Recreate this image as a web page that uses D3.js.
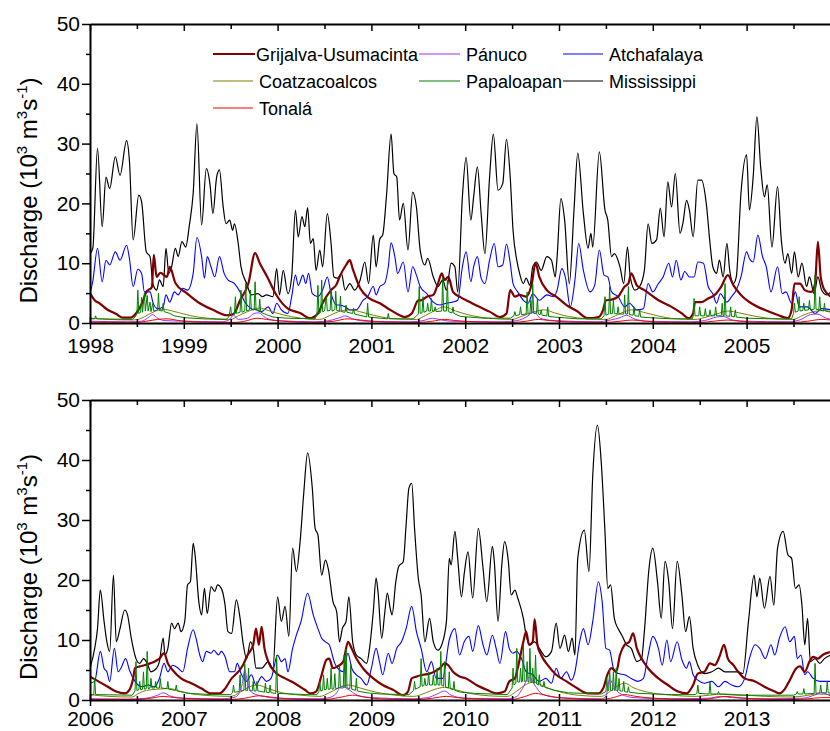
<!DOCTYPE html>
<html>
<head>
<meta charset="utf-8">
<script src="https://cdn.jsdelivr.net/npm/d3@7/dist/d3.min.js"></script>
<style>
  body { margin: 0; background: #fff; }
  svg { display: block; font-family: "Liberation Sans", Arial, sans-serif; }
</style>
</head>
<body>
<svg id="chart" width="830" height="731"></svg>
<script>
// ---- data: [decimal year, discharge in 10^3 m3/s] ----
let seriesNames = ['Grijalva-Usumacinta', 'Pánuco', 'Atchafalaya', 'Coatzacoalcos', 'Papaloapan', 'Mississippi', 'Tonalá'];
let topYears = [1998, 1999, 2000, 2001, 2002, 2003, 2004, 2005];
let bottomYears = [2006, 2007, 2008, 2009, 2010, 2011, 2012, 2013];
let yTicks = [0, 10, 20, 30, 40, 50];

let missTop = [[1998.00,11.6],[1998.03,12.5],[1998.08,29.2],[1998.13,16.1],[1998.17,24.4],[1998.21,22.5],[1998.27,27.8],[1998.32,24.7],[1998.39,30.5],[1998.42,27.2],[1998.46,13.9],[1998.52,21.4],[1998.55,20.3],[1998.60,11.9],[1998.64,11.1],[1998.67,6.6],[1998.71,5.5],[1998.74,7.2],[1998.78,6.1],[1998.81,12.5],[1998.84,8.3],[1998.87,9.4],[1998.91,12.5],[1998.94,11.1],[1998.98,13.6],[1999.02,12.7],[1999.06,16.4],[1999.10,21.7],[1999.14,33.3],[1999.19,16.4],[1999.24,25.8],[1999.28,23.1],[1999.31,18.3],[1999.35,24.4],[1999.38,25.6],[1999.42,19.4],[1999.45,16.6],[1999.49,17.2],[1999.52,15.5],[1999.54,16.6],[1999.58,13.3],[1999.61,9.4],[1999.67,6.6],[1999.72,4.7],[1999.79,4.9],[1999.84,4.4],[1999.88,4.7],[1999.95,4.4],[1999.99,9.1],[2000.02,4.7],[2000.06,8.8],[2000.11,4.9],[2000.15,7.7],[2000.19,18.9],[2000.22,14.4],[2000.26,17.8],[2000.29,16.1],[2000.32,19.3],[2000.35,13.3],[2000.38,14.1],[2000.41,8.8],[2000.45,12.2],[2000.48,9.4],[2000.53,18.3],[2000.57,13.3],[2000.60,7.7],[2000.64,7.5],[2000.68,8.3],[2000.72,5.5],[2000.77,6.6],[2000.82,5.5],[2000.88,7.2],[2000.93,10.2],[2000.97,6.6],[2001.02,14.7],[2001.05,9.4],[2001.09,14.1],[2001.12,14.7],[2001.16,21.1],[2001.21,31.6],[2001.24,25.0],[2001.27,24.4],[2001.30,17.2],[2001.34,20.0],[2001.39,12.2],[2001.44,21.9],[2001.48,19.4],[2001.52,12.2],[2001.57,9.7],[2001.60,10.8],[2001.66,7.7],[2001.71,6.1],[2001.76,7.2],[2001.80,5.5],[2001.85,10.0],[2001.89,9.4],[2001.92,5.2],[2001.97,21.1],[2002.01,27.7],[2002.06,17.2],[2002.09,21.1],[2002.13,26.1],[2002.17,18.3],[2002.21,11.6],[2002.26,24.4],[2002.30,31.6],[2002.35,22.2],[2002.40,23.3],[2002.44,30.7],[2002.48,24.4],[2002.51,15.5],[2002.55,10.5],[2002.58,8.3],[2002.62,6.6],[2002.65,7.5],[2002.69,6.3],[2002.72,9.4],[2002.76,10.2],[2002.81,8.8],[2002.87,11.1],[2002.92,10.5],[2002.96,7.7],[2002.98,11.1],[2003.02,20.8],[2003.06,17.2],[2003.11,6.6],[2003.16,18.9],[2003.20,28.4],[2003.26,18.3],[2003.31,12.5],[2003.34,15.0],[2003.36,12.7],[2003.43,28.6],[2003.49,18.9],[2003.52,17.2],[2003.56,11.1],[2003.59,11.6],[2003.65,9.4],[2003.69,6.6],[2003.73,12.7],[2003.76,7.7],[2003.81,5.5],[2003.86,6.1],[2003.91,8.8],[2003.95,16.6],[2003.99,13.3],[2004.04,13.9],[2004.08,19.2],[2004.12,14.4],[2004.16,23.6],[2004.20,19.4],[2004.24,25.0],[2004.29,15.0],[2004.32,16.6],[2004.36,20.5],[2004.39,18.9],[2004.43,14.4],[2004.48,23.9],[2004.52,23.9],[2004.57,20.0],[2004.61,13.3],[2004.64,9.4],[2004.68,8.3],[2004.71,10.5],[2004.75,7.7],[2004.79,13.3],[2004.82,8.8],[2004.86,6.6],[2004.89,7.7],[2004.94,21.7],[2005.00,28.1],[2005.03,18.9],[2005.07,24.4],[2005.11,34.5],[2005.15,26.1],[2005.19,21.1],[2005.22,23.1],[2005.27,12.7],[2005.33,22.8],[2005.37,13.9],[2005.41,10.0],[2005.44,11.6],[2005.48,8.3],[2005.51,11.9],[2005.55,7.7],[2005.59,10.0],[2005.64,6.1],[2005.67,7.7],[2005.72,4.9],[2005.76,7.7],[2005.80,5.5],[2005.85,4.7],[2005.90,5.2]];

let atchTop = [[1998.00,4.9],[1998.03,7.0],[1998.08,12.5],[1998.13,6.9],[1998.17,10.5],[1998.21,9.7],[1998.27,11.9],[1998.32,10.5],[1998.39,13.0],[1998.42,10.8],[1998.46,6.1],[1998.51,9.0],[1998.55,8.3],[1998.58,5.2],[1998.64,5.2],[1998.67,3.5],[1998.72,2.4],[1998.78,2.7],[1998.81,4.7],[1998.85,3.5],[1998.90,5.2],[1998.94,4.7],[1998.99,5.8],[1999.04,5.5],[1999.10,8.3],[1999.14,14.3],[1999.19,11.1],[1999.22,7.5],[1999.25,11.1],[1999.29,9.4],[1999.33,7.7],[1999.38,11.1],[1999.43,8.3],[1999.47,7.2],[1999.54,6.6],[1999.60,5.2],[1999.65,3.5],[1999.72,2.4],[1999.77,2.2],[1999.83,1.9],[1999.90,2.7],[1999.95,1.6],[1999.99,3.3],[2000.04,2.2],[2000.11,1.6],[2000.15,4.4],[2000.19,8.0],[2000.22,6.3],[2000.27,8.0],[2000.30,6.6],[2000.33,8.3],[2000.37,4.9],[2000.43,4.4],[2000.48,5.5],[2000.53,7.7],[2000.57,4.9],[2000.63,3.0],[2000.66,3.0],[2000.72,2.7],[2000.77,2.2],[2000.84,2.2],[2000.91,3.8],[2000.96,4.4],[2001.02,6.1],[2001.05,4.7],[2001.09,6.1],[2001.14,6.6],[2001.18,9.4],[2001.21,13.4],[2001.25,11.1],[2001.28,8.3],[2001.34,10.2],[2001.39,5.2],[2001.44,9.4],[2001.48,8.0],[2001.52,6.1],[2001.59,4.9],[2001.66,3.5],[2001.73,3.0],[2001.80,3.3],[2001.87,3.5],[2001.92,3.8],[2001.97,9.4],[2002.01,11.9],[2002.06,6.9],[2002.09,9.4],[2002.13,11.1],[2002.17,7.5],[2002.21,6.6],[2002.26,10.5],[2002.31,13.3],[2002.35,9.4],[2002.40,9.7],[2002.44,13.2],[2002.48,10.0],[2002.51,6.6],[2002.56,5.2],[2002.62,3.8],[2002.67,3.3],[2002.72,4.9],[2002.79,3.8],[2002.87,4.7],[2002.94,4.4],[2002.98,5.5],[2003.03,9.1],[2003.07,7.5],[2003.12,2.7],[2003.17,7.2],[2003.21,13.3],[2003.26,8.8],[2003.33,5.2],[2003.38,6.3],[2003.43,12.2],[2003.48,8.0],[2003.52,7.7],[2003.56,5.2],[2003.63,4.4],[2003.70,2.7],[2003.75,3.3],[2003.83,2.2],[2003.90,2.4],[2003.95,6.6],[2004.00,5.2],[2004.06,6.6],[2004.11,7.7],[2004.17,10.0],[2004.21,7.7],[2004.25,10.5],[2004.30,7.2],[2004.34,8.6],[2004.39,7.7],[2004.44,7.7],[2004.48,10.2],[2004.54,10.0],[2004.59,6.1],[2004.64,4.9],[2004.68,3.3],[2004.72,4.9],[2004.79,3.5],[2004.84,4.4],[2004.89,5.5],[2004.94,7.7],[2005.00,11.9],[2005.03,10.8],[2005.07,10.2],[2005.12,14.7],[2005.17,11.1],[2005.21,9.4],[2005.26,5.2],[2005.33,9.4],[2005.38,4.9],[2005.42,5.2],[2005.48,3.3],[2005.52,5.2],[2005.56,2.7],[2005.65,2.7],[2005.73,1.6],[2005.80,2.4],[2005.90,2.2]];

let grijTop = [[1998.00,5.0],[1998.05,3.8],[1998.10,3.3],[1998.18,2.3],[1998.28,1.5],[1998.35,0.9],[1998.43,0.9],[1998.50,1.8],[1998.56,3.5],[1998.60,5.2],[1998.66,6.0],[1998.68,11.4],[1998.71,7.7],[1998.75,8.4],[1998.82,7.7],[1998.85,9.4],[1998.91,6.7],[1999.03,5.0],[1999.17,3.3],[1999.31,2.2],[1999.46,1.3],[1999.53,1.5],[1999.60,3.8],[1999.69,6.7],[1999.76,11.7],[1999.81,10.0],[1999.89,7.7],[1999.99,4.6],[2000.11,2.4],[2000.25,1.6],[2000.34,0.8],[2000.43,1.6],[2000.48,3.3],[2000.52,4.4],[2000.57,5.5],[2000.63,6.5],[2000.66,7.7],[2000.73,9.7],[2000.77,10.5],[2000.80,9.1],[2000.88,5.8],[2000.98,4.1],[2001.09,3.3],[2001.20,2.2],[2001.30,1.3],[2001.35,1.0],[2001.43,1.6],[2001.50,3.8],[2001.53,3.8],[2001.59,4.4],[2001.66,4.7],[2001.71,6.6],[2001.75,8.3],[2001.78,7.2],[2001.82,7.7],[2001.87,5.2],[2001.94,4.4],[2002.05,3.5],[2002.15,2.7],[2002.26,1.9],[2002.37,1.0],[2002.44,1.6],[2002.48,5.5],[2002.53,4.4],[2002.58,4.7],[2002.65,4.4],[2002.71,6.6],[2002.75,10.0],[2002.79,7.7],[2002.87,5.5],[2002.97,4.4],[2003.08,3.0],[2003.19,2.0],[2003.31,0.8],[2003.42,1.0],[2003.47,2.2],[2003.50,3.8],[2003.56,3.9],[2003.63,4.4],[2003.70,6.1],[2003.74,6.6],[2003.77,8.3],[2003.83,6.3],[2003.91,5.5],[2004.06,3.8],[2004.20,2.7],[2004.31,1.6],[2004.38,0.8],[2004.43,1.6],[2004.45,3.5],[2004.52,3.5],[2004.59,4.1],[2004.66,4.7],[2004.73,6.1],[2004.80,8.0],[2004.86,6.3],[2004.94,4.7],[2005.05,3.3],[2005.19,2.2],[2005.34,1.3],[2005.44,0.8],[2005.48,2.2],[2005.51,6.6],[2005.57,6.6],[2005.62,5.5],[2005.69,5.2],[2005.73,6.6],[2005.76,13.6],[2005.79,7.7],[2005.83,5.5],[2005.90,4.4]];

let papaTop = [[1998.00,0.7],[1998.05,0.7],[1998.06,1.2],[1998.07,0.7],[1998.45,0.6],[1998.48,1.0],[1998.50,1.5],[1998.51,5.5],[1998.52,1.6],[1998.54,1.8],[1998.55,4.3],[1998.56,1.8],[1998.58,5.0],[1998.59,2.0],[1998.61,4.6],[1998.62,2.0],[1998.64,3.5],[1998.65,1.9],[1998.67,3.3],[1998.68,2.0],[1998.72,2.2],[1998.73,5.0],[1998.74,2.1],[1998.77,2.0],[1998.78,3.3],[1998.79,1.9],[1998.85,1.6],[1998.90,1.2],[1999.00,0.9],[1999.20,0.7],[1999.45,0.6],[1999.48,1.0],[1999.50,2.7],[1999.51,1.2],[1999.54,1.5],[1999.55,4.4],[1999.56,1.6],[1999.60,1.8],[1999.61,5.5],[1999.62,1.8],[1999.65,2.0],[1999.66,6.6],[1999.67,2.0],[1999.70,2.2],[1999.71,5.5],[1999.72,2.2],[1999.75,2.2],[1999.76,6.9],[1999.77,2.3],[1999.80,2.0],[1999.81,4.0],[1999.82,1.8],[1999.88,1.4],[1999.95,1.0],[2000.10,0.8],[2000.40,0.7],[2000.42,1.5],[2000.43,6.3],[2000.44,1.6],[2000.46,1.8],[2000.47,7.2],[2000.48,1.9],[2000.50,2.0],[2000.52,4.4],[2000.53,2.0],[2000.56,2.1],[2000.57,5.5],[2000.58,2.0],[2000.61,2.2],[2000.62,5.3],[2000.63,2.1],[2000.66,2.0],[2000.67,4.5],[2000.68,1.9],[2000.72,1.8],[2000.73,3.0],[2000.74,1.8],[2000.80,1.6],[2000.81,2.5],[2000.82,1.5],[2000.90,1.2],[2000.95,1.0],[2000.96,3.3],[2000.97,1.0],[2001.10,0.8],[2001.17,0.7],[2001.18,1.6],[2001.19,0.7],[2001.45,0.7],[2001.50,1.5],[2001.51,6.1],[2001.52,1.6],[2001.54,1.7],[2001.55,4.4],[2001.56,1.8],[2001.59,2.0],[2001.60,3.3],[2001.61,2.0],[2001.63,2.0],[2001.64,4.1],[2001.65,2.0],[2001.67,2.0],[2001.68,2.7],[2001.69,1.9],[2001.75,2.0],[2001.76,7.5],[2001.77,2.0],[2001.80,2.0],[2001.81,7.2],[2001.82,1.9],[2001.86,1.7],[2001.87,2.7],[2001.88,1.6],[2001.95,1.1],[2002.20,0.8],[2002.48,0.8],[2002.52,1.2],[2002.53,1.9],[2002.54,1.2],[2002.58,1.4],[2002.59,2.7],[2002.60,1.4],[2002.65,1.5],[2002.66,5.2],[2002.67,1.5],[2002.69,1.6],[2002.70,3.8],[2002.71,1.6],[2002.72,6.5],[2002.73,1.6],[2002.76,1.6],[2002.77,4.1],[2002.78,1.5],[2002.80,1.4],[2002.81,2.2],[2002.82,1.3],[2002.87,1.2],[2002.88,2.7],[2002.89,1.1],[2002.95,1.0],[2003.20,0.7],[2003.45,0.7],[2003.48,1.2],[2003.49,4.4],[2003.50,1.3],[2003.53,1.5],[2003.54,6.1],[2003.55,1.5],[2003.57,1.6],[2003.58,3.8],[2003.59,1.6],[2003.62,1.5],[2003.63,2.7],[2003.64,1.5],[2003.69,1.5],[2003.70,4.7],[2003.71,1.5],[2003.73,1.5],[2003.74,6.1],[2003.75,1.4],[2003.79,1.3],[2003.80,2.7],[2003.81,1.2],[2003.85,1.1],[2003.86,2.2],[2003.87,1.0],[2003.95,0.9],[2004.20,0.7],[2004.42,0.7],[2004.43,1.1],[2004.44,4.1],[2004.45,1.2],[2004.49,1.2],[2004.50,2.7],[2004.51,1.2],[2004.55,1.2],[2004.56,2.4],[2004.57,1.2],[2004.60,1.2],[2004.61,2.2],[2004.62,1.2],[2004.66,1.2],[2004.67,2.7],[2004.68,1.2],[2004.73,1.2],[2004.74,3.3],[2004.75,1.2],[2004.76,1.2],[2004.77,6.6],[2004.78,1.2],[2004.82,1.1],[2004.83,2.7],[2004.84,1.1],[2004.87,1.0],[2004.88,2.2],[2004.89,1.0],[2005.00,0.8],[2005.25,0.7],[2005.48,0.7],[2005.50,1.6],[2005.51,3.3],[2005.52,1.8],[2005.55,2.0],[2005.56,4.4],[2005.57,2.0],[2005.60,2.1],[2005.61,3.3],[2005.62,2.1],[2005.66,2.2],[2005.67,3.8],[2005.68,2.2],[2005.72,2.3],[2005.73,8.0],[2005.74,2.3],[2005.77,2.2],[2005.78,4.4],[2005.79,2.1],[2005.82,2.0],[2005.83,3.3],[2005.84,2.0],[2005.90,1.8]];

let coatTop = [[1998.00,0.8],[1998.20,0.6],[1998.45,0.5],[1998.55,0.8],[1998.62,1.4],[1998.70,2.0],[1998.78,2.3],[1998.88,2.0],[1999.00,1.5],[1999.15,1.0],[1999.35,0.7],[1999.50,0.6],[1999.58,1.2],[1999.68,1.9],[1999.80,2.5],[1999.90,2.1],[2000.05,1.4],[2000.25,0.8],[2000.45,0.6],[2000.55,1.2],[2000.65,1.9],[2000.78,2.2],[2000.90,1.8],[2001.05,1.2],[2001.25,0.7],[2001.48,0.6],[2001.58,1.3],[2001.68,2.1],[2001.77,2.7],[2001.90,2.0],[2002.05,1.3],[2002.25,0.8],[2002.50,0.6],[2002.60,1.1],[2002.72,1.8],[2002.85,2.2],[2002.95,1.7],[2003.10,1.1],[2003.30,0.7],[2003.50,0.6],[2003.60,1.2],[2003.70,1.9],[2003.78,2.2],[2003.90,1.8],[2004.05,1.2],[2004.25,0.7],[2004.45,0.6],[2004.55,0.9],[2004.68,1.5],[2004.80,2.0],[2004.92,1.7],[2005.10,1.1],[2005.30,0.7],[2005.50,0.6],[2005.60,1.3],[2005.72,1.9],[2005.82,2.1],[2005.90,1.9]];

let panTop = [[1998.00,0.3],[1998.40,0.2],[1998.55,0.3],[1998.62,0.9],[1998.67,1.4],[1998.72,0.8],[1998.80,0.4],[1999.00,0.3],[1999.40,0.2],[1999.48,0.5],[1999.53,1.3],[1999.58,0.6],[1999.68,0.8],[1999.75,1.6],[1999.80,1.7],[1999.87,0.9],[2000.00,0.4],[2000.40,0.2],[2000.55,0.4],[2000.68,1.0],[2000.72,1.2],[2000.80,0.7],[2000.95,0.3],[2001.40,0.2],[2001.55,0.4],[2001.65,0.8],[2001.72,0.6],[2001.85,0.3],[2002.40,0.2],[2002.55,0.4],[2002.68,1.3],[2002.73,1.9],[2002.80,0.8],[2002.95,0.4],[2003.40,0.2],[2003.55,0.5],[2003.65,0.9],[2003.72,1.3],[2003.80,0.7],[2003.95,0.3],[2004.40,0.2],[2004.55,0.4],[2004.68,1.0],[2004.75,1.1],[2004.85,0.5],[2005.00,0.3],[2005.45,0.2],[2005.58,0.6],[2005.68,1.4],[2005.75,1.5],[2005.85,0.8],[2005.90,0.6]];

let tonTop = [[1998.00,0.15],[1998.50,0.1],[1998.60,0.3],[1998.72,0.6],[1998.82,0.7],[1998.95,0.4],[1999.20,0.15],[1999.55,0.1],[1999.65,0.3],[1999.78,0.8],[1999.88,0.6],[2000.05,0.3],[2000.40,0.1],[2000.60,0.3],[2000.75,0.7],[2000.88,0.5],[2001.10,0.2],[2001.50,0.1],[2001.65,0.3],[2001.78,0.6],[2001.90,0.4],[2002.10,0.2],[2002.50,0.1],[2002.65,0.3],[2002.78,0.6],[2002.90,0.4],[2003.10,0.2],[2003.50,0.1],[2003.65,0.3],[2003.78,0.5],[2003.92,0.3],[2004.10,0.15],[2004.50,0.1],[2004.65,0.3],[2004.80,0.5],[2004.92,0.3],[2005.10,0.15],[2005.50,0.1],[2005.65,0.3],[2005.80,0.6],[2005.90,0.5]];

let missBot = [[2006.00,5.3],[2006.05,8.6],[2006.08,11.9],[2006.11,18.3],[2006.15,13.1],[2006.18,9.7],[2006.21,8.1],[2006.25,20.8],[2006.28,9.7],[2006.32,11.9],[2006.37,15.0],[2006.40,14.2],[2006.44,10.3],[2006.49,6.9],[2006.53,6.1],[2006.57,6.9],[2006.61,6.1],[2006.65,4.7],[2006.71,5.3],[2006.74,6.4],[2006.78,10.3],[2006.80,7.5],[2006.83,8.6],[2006.87,12.8],[2006.90,11.9],[2006.94,12.8],[2006.97,11.4],[2007.01,13.1],[2007.04,19.2],[2007.07,19.7],[2007.10,26.1],[2007.12,24.2],[2007.16,16.4],[2007.19,14.2],[2007.22,18.6],[2007.25,14.4],[2007.29,18.9],[2007.33,18.1],[2007.36,19.2],[2007.40,18.6],[2007.44,15.8],[2007.47,11.4],[2007.51,11.1],[2007.56,16.7],[2007.60,13.6],[2007.63,9.7],[2007.67,6.9],[2007.71,9.7],[2007.74,8.6],[2007.77,5.3],[2007.83,5.3],[2007.90,6.4],[2007.95,5.3],[2008.00,17.2],[2008.04,13.1],[2008.08,15.6],[2008.12,10.6],[2008.16,25.3],[2008.20,21.4],[2008.24,26.4],[2008.28,34.7],[2008.32,41.2],[2008.37,35.3],[2008.40,28.6],[2008.43,27.5],[2008.47,20.8],[2008.51,23.3],[2008.54,21.9],[2008.59,16.4],[2008.63,14.7],[2008.66,9.7],[2008.69,11.9],[2008.73,13.1],[2008.76,17.2],[2008.80,9.7],[2008.84,7.5],[2008.89,6.9],[2008.95,6.1],[2008.98,8.6],[2009.02,14.7],[2009.05,20.3],[2009.07,18.1],[2009.11,10.3],[2009.14,14.2],[2009.17,17.8],[2009.20,15.3],[2009.22,14.2],[2009.26,19.7],[2009.29,22.2],[2009.34,23.1],[2009.37,29.2],[2009.40,35.3],[2009.43,36.1],[2009.46,28.6],[2009.50,20.3],[2009.53,17.5],[2009.57,9.7],[2009.62,13.6],[2009.66,9.7],[2009.71,8.3],[2009.75,9.2],[2009.80,13.1],[2009.83,23.6],[2009.85,22.5],[2009.89,28.1],[2009.92,23.6],[2009.96,17.2],[2009.99,21.1],[2010.03,24.7],[2010.08,17.0],[2010.14,28.6],[2010.19,22.0],[2010.23,16.4],[2010.29,25.6],[2010.31,23.1],[2010.35,13.1],[2010.39,22.5],[2010.42,26.4],[2010.46,23.1],[2010.49,17.5],[2010.53,18.3],[2010.56,17.0],[2010.62,13.6],[2010.65,10.8],[2010.69,9.2],[2010.74,9.7],[2010.79,8.6],[2010.86,7.2],[2010.92,8.1],[2010.97,12.8],[2011.01,8.6],[2011.06,10.8],[2011.10,8.1],[2011.14,10.3],[2011.17,7.5],[2011.20,23.6],[2011.27,28.3],[2011.32,21.4],[2011.36,37.5],[2011.41,45.8],[2011.45,39.7],[2011.49,28.1],[2011.52,18.6],[2011.55,19.2],[2011.59,13.6],[2011.63,11.9],[2011.67,10.8],[2011.72,9.2],[2011.77,8.6],[2011.83,6.4],[2011.88,6.9],[2011.91,11.4],[2011.96,22.0],[2012.00,25.3],[2012.05,19.7],[2012.09,13.6],[2012.13,23.1],[2012.17,19.7],[2012.21,11.9],[2012.26,23.1],[2012.31,17.5],[2012.35,11.4],[2012.39,13.9],[2012.43,8.6],[2012.48,5.8],[2012.55,4.4],[2012.63,4.7],[2012.70,5.3],[2012.77,4.7],[2012.84,4.7],[2012.91,4.7],[2012.96,4.4],[2013.02,13.1],[2013.08,20.8],[2013.11,17.2],[2013.14,20.3],[2013.19,15.3],[2013.25,20.6],[2013.29,15.8],[2013.33,25.3],[2013.39,28.1],[2013.44,24.2],[2013.48,23.6],[2013.52,18.6],[2013.56,19.2],[2013.59,15.8],[2013.62,9.2],[2013.65,13.6],[2013.68,6.4],[2013.73,6.9],[2013.78,6.1],[2013.83,6.9],[2013.90,7.5]];

let atchBot = [[2006.00,2.8],[2006.05,3.1],[2006.11,8.1],[2006.15,5.3],[2006.18,4.7],[2006.21,3.1],[2006.26,8.6],[2006.30,4.7],[2006.33,5.3],[2006.38,6.9],[2006.42,5.0],[2006.48,3.1],[2006.55,2.2],[2006.62,2.5],[2006.69,2.2],[2006.74,3.6],[2006.79,6.1],[2006.83,4.7],[2006.88,5.8],[2006.94,5.3],[2006.99,4.7],[2007.04,8.6],[2007.10,11.7],[2007.13,10.3],[2007.17,7.5],[2007.20,6.4],[2007.24,8.1],[2007.29,7.8],[2007.32,8.3],[2007.37,7.5],[2007.40,8.1],[2007.44,7.2],[2007.49,4.7],[2007.54,4.7],[2007.57,6.1],[2007.61,4.4],[2007.67,3.1],[2007.72,4.2],[2007.77,2.5],[2007.83,3.9],[2007.88,3.1],[2007.93,3.6],[2008.00,7.5],[2008.04,6.4],[2008.08,6.9],[2008.11,4.7],[2008.16,8.6],[2008.20,10.8],[2008.25,13.1],[2008.32,17.8],[2008.38,14.2],[2008.43,11.9],[2008.47,10.3],[2008.51,9.7],[2008.55,9.2],[2008.61,6.1],[2008.64,5.3],[2008.70,4.7],[2008.75,7.8],[2008.79,5.3],[2008.84,4.2],[2008.89,3.6],[2008.95,2.5],[2009.00,5.3],[2009.05,8.6],[2009.09,6.1],[2009.12,4.2],[2009.18,7.8],[2009.22,6.1],[2009.27,8.6],[2009.32,9.7],[2009.37,11.9],[2009.43,15.6],[2009.48,11.4],[2009.53,8.6],[2009.59,4.7],[2009.64,6.4],[2009.69,3.6],[2009.76,3.6],[2009.83,10.0],[2009.89,11.9],[2009.94,7.5],[2009.99,9.7],[2010.04,10.6],[2010.08,8.1],[2010.14,12.4],[2010.19,9.2],[2010.23,7.5],[2010.29,10.8],[2010.33,8.6],[2010.37,6.1],[2010.43,11.4],[2010.47,8.6],[2010.51,7.8],[2010.55,8.1],[2010.60,6.9],[2010.65,4.7],[2010.72,4.2],[2010.79,3.1],[2010.86,3.6],[2010.92,2.8],[2010.97,5.3],[2011.02,3.6],[2011.08,4.7],[2011.13,3.3],[2011.17,4.7],[2011.22,9.7],[2011.26,11.9],[2011.31,9.2],[2011.36,13.1],[2011.42,19.7],[2011.46,16.4],[2011.50,8.6],[2011.54,8.3],[2011.58,5.3],[2011.63,4.4],[2011.70,4.2],[2011.77,3.6],[2011.84,3.1],[2011.90,3.6],[2011.95,7.5],[2012.00,10.6],[2012.06,8.6],[2012.10,5.8],[2012.15,10.0],[2012.19,6.4],[2012.26,9.7],[2012.31,6.7],[2012.36,5.3],[2012.39,6.4],[2012.43,4.2],[2012.48,3.3],[2012.55,2.8],[2012.63,3.1],[2012.70,2.2],[2012.77,3.1],[2012.84,2.5],[2012.91,2.2],[2012.98,3.6],[2013.03,6.9],[2013.09,9.2],[2013.14,8.6],[2013.20,6.9],[2013.26,9.2],[2013.30,7.5],[2013.35,10.3],[2013.41,12.2],[2013.46,9.7],[2013.51,10.6],[2013.54,6.9],[2013.58,7.5],[2013.62,4.2],[2013.65,4.7],[2013.71,3.6],[2013.78,3.1],[2013.90,3.1]];

let grijBot = [[2006.00,3.9],[2006.09,3.1],[2006.19,2.2],[2006.28,1.4],[2006.37,1.1],[2006.42,1.7],[2006.46,3.6],[2006.48,5.3],[2006.53,5.6],[2006.58,5.8],[2006.64,6.1],[2006.69,6.4],[2006.74,6.9],[2006.79,7.8],[2006.83,6.1],[2006.88,5.0],[2006.97,3.6],[2007.08,2.8],[2007.19,1.9],[2007.29,1.1],[2007.38,1.1],[2007.44,1.9],[2007.51,3.6],[2007.58,4.7],[2007.63,5.8],[2007.68,7.5],[2007.74,9.2],[2007.77,11.9],[2007.80,9.2],[2007.83,12.2],[2007.86,8.6],[2007.90,6.4],[2007.97,4.7],[2008.08,3.6],[2008.18,2.8],[2008.29,1.7],[2008.35,1.1],[2008.41,1.4],[2008.47,4.2],[2008.52,6.7],[2008.55,6.9],[2008.59,5.3],[2008.64,5.6],[2008.70,6.4],[2008.75,9.7],[2008.79,8.6],[2008.84,6.9],[2008.91,5.3],[2009.02,3.6],[2009.12,2.5],[2009.23,1.7],[2009.34,0.8],[2009.39,1.4],[2009.43,3.6],[2009.48,3.9],[2009.55,4.2],[2009.62,4.4],[2009.67,4.7],[2009.73,5.3],[2009.78,6.1],[2009.82,5.8],[2009.87,4.7],[2009.94,3.9],[2010.01,3.6],[2010.12,2.5],[2010.23,1.7],[2010.33,1.1],[2010.42,1.4],[2010.47,3.1],[2010.53,3.6],[2010.56,5.3],[2010.62,9.7],[2010.65,11.4],[2010.68,9.2],[2010.72,9.7],[2010.74,13.5],[2010.77,9.2],[2010.81,7.5],[2010.88,5.8],[2010.97,4.2],[2011.08,3.1],[2011.19,2.0],[2011.31,1.1],[2011.42,1.1],[2011.47,1.9],[2011.52,4.4],[2011.56,5.3],[2011.61,4.7],[2011.65,7.5],[2011.70,9.2],[2011.75,9.7],[2011.79,11.1],[2011.83,8.6],[2011.88,6.9],[2011.95,5.3],[2012.06,3.6],[2012.16,2.5],[2012.27,1.4],[2012.36,1.1],[2012.43,2.5],[2012.48,4.4],[2012.55,4.7],[2012.61,6.1],[2012.66,5.8],[2012.71,7.2],[2012.76,9.2],[2012.80,6.9],[2012.86,5.8],[2012.91,4.7],[2012.98,3.6],[2013.09,3.1],[2013.19,2.2],[2013.30,1.4],[2013.35,1.1],[2013.41,1.9],[2013.46,3.3],[2013.53,5.3],[2013.57,5.6],[2013.62,4.7],[2013.67,6.4],[2013.71,7.2],[2013.76,6.9],[2013.81,7.5],[2013.90,8.0]];

let papaBot = [[2006.00,0.8],[2006.04,0.9],[2006.05,3.6],[2006.06,0.9],[2006.45,0.8],[2006.48,1.5],[2006.49,6.4],[2006.50,1.6],[2006.52,1.7],[2006.53,3.1],[2006.54,1.7],[2006.56,1.8],[2006.57,4.7],[2006.58,1.8],[2006.60,1.9],[2006.61,8.1],[2006.62,1.9],[2006.64,2.0],[2006.65,3.6],[2006.66,2.0],[2006.69,2.0],[2006.70,3.1],[2006.71,2.0],[2006.74,2.0],[2006.75,3.6],[2006.76,2.0],[2006.82,1.9],[2006.83,3.1],[2006.84,1.8],[2006.91,1.6],[2006.92,2.5],[2006.93,1.5],[2007.05,1.1],[2007.30,0.9],[2007.50,0.9],[2007.52,1.2],[2007.53,2.5],[2007.54,1.3],[2007.59,1.4],[2007.60,4.2],[2007.61,1.5],[2007.64,1.6],[2007.65,6.1],[2007.66,1.6],[2007.68,1.6],[2007.69,5.3],[2007.70,1.6],[2007.73,1.5],[2007.74,3.1],[2007.75,1.5],[2007.77,1.5],[2007.78,3.1],[2007.79,1.5],[2007.86,1.3],[2007.87,2.8],[2007.88,1.3],[2007.91,1.2],[2007.92,2.5],[2007.93,1.2],[2007.98,1.1],[2007.99,7.5],[2008.00,1.1],[2008.30,0.9],[2008.42,0.9],[2008.44,1.4],[2008.45,3.1],[2008.46,1.5],[2008.48,1.6],[2008.49,4.2],[2008.50,1.7],[2008.52,1.8],[2008.53,3.6],[2008.54,1.8],[2008.56,1.8],[2008.57,5.3],[2008.58,1.8],[2008.60,1.9],[2008.61,4.4],[2008.62,1.9],[2008.65,2.0],[2008.66,5.8],[2008.67,2.0],[2008.70,2.0],[2008.71,7.5],[2008.72,2.0],[2008.73,8.5],[2008.74,2.0],[2008.77,1.9],[2008.78,6.0],[2008.79,1.8],[2008.83,1.6],[2008.84,3.6],[2008.85,1.5],[2008.95,1.2],[2009.10,1.0],[2009.40,0.9],[2009.45,1.6],[2009.46,3.1],[2009.47,1.8],[2009.52,2.2],[2009.53,6.9],[2009.54,2.3],[2009.56,2.4],[2009.57,3.6],[2009.58,2.4],[2009.60,2.5],[2009.61,4.7],[2009.62,2.5],[2009.65,2.5],[2009.66,4.2],[2009.67,2.5],[2009.69,2.5],[2009.70,5.3],[2009.71,2.5],[2009.73,2.5],[2009.74,8.1],[2009.75,2.4],[2009.77,2.3],[2009.78,6.4],[2009.79,2.2],[2009.82,2.0],[2009.83,4.7],[2009.84,1.9],[2009.87,1.7],[2009.88,3.1],[2009.89,1.6],[2009.95,1.3],[2010.10,1.1],[2010.45,0.9],[2010.50,2.0],[2010.51,5.3],[2010.52,2.5],[2010.54,2.8],[2010.55,8.6],[2010.56,3.0],[2010.58,3.0],[2010.59,5.3],[2010.60,3.0],[2010.61,3.1],[2010.62,9.2],[2010.63,3.1],[2010.65,3.1],[2010.66,6.4],[2010.67,3.0],[2010.68,3.0],[2010.69,8.6],[2010.70,3.0],[2010.71,2.9],[2010.72,5.3],[2010.73,2.8],[2010.74,2.8],[2010.75,7.5],[2010.76,2.7],[2010.78,2.5],[2010.79,4.2],[2010.80,2.4],[2010.83,2.2],[2010.84,3.1],[2010.85,2.1],[2010.95,1.6],[2011.10,1.2],[2011.45,1.0],[2011.50,1.4],[2011.51,3.6],[2011.52,1.5],[2011.53,1.6],[2011.54,5.3],[2011.55,1.6],[2011.57,1.6],[2011.58,4.7],[2011.59,1.6],[2011.60,1.6],[2011.61,5.3],[2011.62,1.6],[2011.63,1.6],[2011.64,3.6],[2011.65,1.5],[2011.68,1.5],[2011.69,3.1],[2011.70,1.4],[2011.73,1.3],[2011.74,2.2],[2011.75,1.3],[2011.85,1.1],[2012.20,0.9],[2012.45,0.9],[2012.47,1.1],[2012.48,2.5],[2012.49,1.1],[2012.60,1.0],[2012.61,3.1],[2012.62,1.0],[2012.69,1.0],[2012.70,1.4],[2012.71,1.0],[2012.90,0.8],[2013.50,0.8],[2013.53,1.0],[2013.54,1.4],[2013.55,1.0],[2013.60,1.0],[2013.61,1.9],[2013.62,1.0],[2013.72,1.1],[2013.73,6.1],[2013.74,1.1],[2013.78,1.2],[2013.79,2.5],[2013.80,1.2],[2013.85,1.2],[2013.86,3.1],[2013.87,1.2],[2013.90,1.1]];

let coatBot = [[2006.00,0.9],[2006.20,0.6],[2006.45,0.5],[2006.52,1.1],[2006.60,1.6],[2006.72,1.8],[2006.85,1.9],[2006.95,1.5],[2007.10,1.0],[2007.30,0.7],[2007.50,0.6],[2007.60,1.3],[2007.70,2.2],[2007.78,2.5],[2007.90,1.9],[2008.05,1.2],[2008.25,0.8],[2008.45,0.6],[2008.55,1.2],[2008.65,2.0],[2008.75,2.5],[2008.88,2.0],[2009.05,1.3],[2009.25,0.8],[2009.45,0.6],[2009.58,1.2],[2009.68,1.8],[2009.78,2.1],[2009.90,1.7],[2010.05,1.1],[2010.25,0.7],[2010.45,0.6],[2010.55,1.5],[2010.65,2.6],[2010.73,3.0],[2010.85,2.2],[2011.00,1.4],[2011.20,0.8],[2011.45,0.6],[2011.55,1.5],[2011.63,2.4],[2011.70,2.8],[2011.80,2.0],[2011.95,1.3],[2012.20,0.8],[2012.45,0.6],[2012.60,0.8],[2012.75,1.0],[2012.90,0.9],[2013.20,0.6],[2013.50,0.5],[2013.62,0.7],[2013.75,1.0],[2013.90,0.9]];

let panBot = [[2006.00,0.2],[2006.40,0.15],[2006.60,0.3],[2006.72,0.8],[2006.78,1.2],[2006.85,0.7],[2007.00,0.3],[2007.40,0.2],[2007.55,0.5],[2007.62,2.5],[2007.65,5.0],[2007.68,2.8],[2007.73,1.2],[2007.85,0.6],[2008.00,0.3],[2008.45,0.2],[2008.55,0.4],[2008.62,1.0],[2008.68,2.3],[2008.75,1.8],[2008.85,0.8],[2009.00,0.4],[2009.45,0.2],[2009.60,0.4],[2009.70,1.0],[2009.78,1.5],[2009.85,0.8],[2010.00,0.3],[2010.45,0.2],[2010.55,0.6],[2010.62,2.2],[2010.68,3.8],[2010.74,2.5],[2010.82,1.0],[2011.00,0.4],[2011.45,0.2],[2011.50,0.6],[2011.54,3.4],[2011.60,1.8],[2011.66,1.0],[2011.80,0.4],[2012.20,0.2],[2012.60,0.3],[2012.72,0.6],[2012.85,0.4],[2013.20,0.2],[2013.60,0.3],[2013.72,0.8],[2013.80,1.2],[2013.90,0.6]];

let tonBot = [[2006.00,0.1],[2006.50,0.1],[2006.65,0.3],[2006.78,0.6],[2006.90,0.4],[2007.10,0.2],[2007.50,0.1],[2007.65,0.3],[2007.80,0.7],[2007.92,0.5],[2008.10,0.2],[2008.50,0.1],[2008.65,0.4],[2008.80,0.8],[2008.92,0.5],[2009.10,0.2],[2009.50,0.1],[2009.65,0.3],[2009.80,0.6],[2009.92,0.4],[2010.10,0.2],[2010.50,0.1],[2010.62,0.5],[2010.75,1.1],[2010.88,0.7],[2011.05,0.3],[2011.45,0.1],[2011.58,0.4],[2011.70,0.9],[2011.82,0.6],[2012.00,0.3],[2012.50,0.1],[2012.65,0.3],[2012.78,0.6],[2012.90,0.4],[2013.10,0.2],[2013.50,0.1],[2013.65,0.2],[2013.80,0.4],[2013.90,0.4]];

// ---- styles ----
let colors = {
  'Grijalva-Usumacinta': '#7f0000', 'Pánuco': '#9933ff', 'Atchafalaya': '#0000ff',
  'Coatzacoalcos': '#808000', 'Papaloapan': '#008000', 'Mississippi': '#000000', 'Tonalá': '#ff0000'
};
let widths = {
  'Grijalva-Usumacinta': 2.2, 'Pánuco': 1, 'Atchafalaya': 1.1,
  'Coatzacoalcos': 1, 'Papaloapan': 1, 'Mississippi': 1.2, 'Tonalá': 1
};
// draw order (back to front)
let drawOrder = ['Mississippi', 'Atchafalaya', 'Grijalva-Usumacinta', 'Coatzacoalcos', 'Papaloapan', 'Pánuco', 'Tonalá'];

let panels = [
  { top: 24, bottom: 323, domain: [1998, 2006], years: topYears, legend: true, labelY: 15,
    data: { 'Mississippi': missTop, 'Atchafalaya': atchTop, 'Grijalva-Usumacinta': grijTop, 'Coatzacoalcos': coatTop,
            'Papaloapan': papaTop, 'Pánuco': panTop, 'Tonalá': tonTop } },
  { top: 400, bottom: 700, domain: [2006, 2014], years: bottomYears, legend: false, labelY: 11,
    data: { 'Mississippi': missBot, 'Atchafalaya': atchBot, 'Grijalva-Usumacinta': grijBot, 'Coatzacoalcos': coatBot,
            'Papaloapan': papaBot, 'Pánuco': panBot, 'Tonalá': tonBot } }
];

let svg = d3.select('#chart');
let left = 90, right = 840.4;

panels.forEach((p, i) => {
  let x = d3.scaleLinear().domain(p.domain).range([left, right]);
  let y = d3.scaleLinear().domain([0, 50]).range([p.bottom, p.top]);

  svg.append('clipPath').attr('id', 'clip' + i)
    .append('rect').attr('x', left).attr('y', p.top).attr('width', right - left).attr('height', p.bottom - p.top);

  let g = svg.append('g').attr('clip-path', 'url(#clip' + i + ')');

  drawOrder.forEach(name => {
    let line = d3.line()
      .x(d => x(d[0]))
      .y(d => y(d[1]))
      .curve(name === 'Papaloapan' ? d3.curveLinear : d3.curveMonotoneX);
    g.append('path')
      .datum(p.data[name])
      .attr('d', line)
      .attr('fill', 'none')
      .attr('stroke', colors[name])
      .attr('stroke-width', widths[name])
      .attr('stroke-linejoin', 'round');
  });

  // left axis with minor ticks
  let yAxis = svg.append('g').attr('transform', 'translate(' + left + ',0)')
    .call(d3.axisLeft(y).tickValues(yTicks).tickSize(8).tickSizeOuter(0).tickPadding(2));
  svg.append('g').attr('transform', 'translate(' + left + ',0)')
    .call(d3.axisLeft(y).tickValues([5, 15, 25, 35, 45]).tickSize(4).tickFormat('').tickSizeOuter(0))
    .select('.domain').remove();
  yAxis.selectAll('text').attr('font-size', 21).attr('font-family', '"Liberation Sans", Arial, sans-serif').attr('fill', '#000');

  // bottom axis: ticks cross the axis line
  let years = p.years.concat([p.domain[1]]);
  let halfYears = years.slice(0, -1).map(v => v + 0.5);
  let xAxis = svg.append('g').attr('transform', 'translate(0,' + p.bottom + ')')
    .call(d3.axisBottom(x).tickValues(years).tickFormat(d3.format('d')).tickSizeOuter(0));
  xAxis.selectAll('.tick line').attr('y1', -6).attr('y2', 6);
  xAxis.selectAll('text').attr('y', p.labelY).attr('font-size', 21)
    .attr('font-family', '"Liberation Sans", Arial, sans-serif').attr('fill', '#000')
    .text(d => p.years.includes(d) ? d : '');
  let xMinor = svg.append('g').attr('transform', 'translate(0,' + p.bottom + ')')
    .call(d3.axisBottom(x).tickValues(halfYears).tickFormat(''));
  xMinor.select('.domain').remove();
  xMinor.selectAll('.tick line').attr('y1', -4).attr('y2', 4);

  // top frame line, ticks pointing inward
  svg.append('g').attr('transform', 'translate(0,' + p.top + ')')
    .call(d3.axisTop(x).tickValues(years).tickSize(-7).tickFormat('').tickSizeOuter(0));
  let topMinor = svg.append('g').attr('transform', 'translate(0,' + p.top + ')')
    .call(d3.axisTop(x).tickValues(halfYears).tickSize(-5).tickFormat(''));
  topMinor.select('.domain').remove();

  svg.selectAll('.domain').attr('stroke', '#000').attr('stroke-width', 2);
  svg.selectAll('.tick line').attr('stroke', '#000').attr('stroke-width', 1.5);

  // y axis title
  let title = svg.append('text')
    .attr('transform', 'translate(37,' + ((p.top + p.bottom) / 2 + 17) + ') rotate(-90)')
    .attr('text-anchor', 'middle')
    .attr('font-size', 24)
    .attr('fill', '#000');
  title.append('tspan').text('Discharge (10');
  title.append('tspan').attr('font-size', 15).attr('dy', -10).text('3');
  title.append('tspan').attr('dy', 10).text(' m');
  title.append('tspan').attr('font-size', 15).attr('dy', -10).text('3');
  title.append('tspan').attr('dy', 10).text('s');
  title.append('tspan').attr('font-size', 15).attr('dy', -10).text('-1');
  title.append('tspan').attr('dy', 10).text(')');

  // legend (three columns) in the upper panel
  if (p.legend) {
    let legendCols = [[213, 42, 1], [419, 41, 6], [563, 40, 6]];
    let legendRows = [54, 81, 108];
    let legend = svg.append('g').attr('font-size', 18);
    seriesNames.forEach((name, k) => {
      let col = legendCols[k % 3], row = legendRows[Math.floor(k / 3)];
      let c = (k % 3 === 0 && k > 0) ? [213, 40, 6] : col;
      legend.append('line')
        .attr('x1', c[0]).attr('x2', c[0] + c[1])
        .attr('y1', row).attr('y2', row)
        .attr('stroke', colors[name])
        .attr('stroke-width', name === 'Grijalva-Usumacinta' ? 2 : 1.2);
      legend.append('text')
        .attr('x', c[0] + c[1] + c[2])
        .attr('y', row + 6.5)
        .attr('fill', '#000')
        .text(name);
    });
  }
});
</script>
</body>
</html>
